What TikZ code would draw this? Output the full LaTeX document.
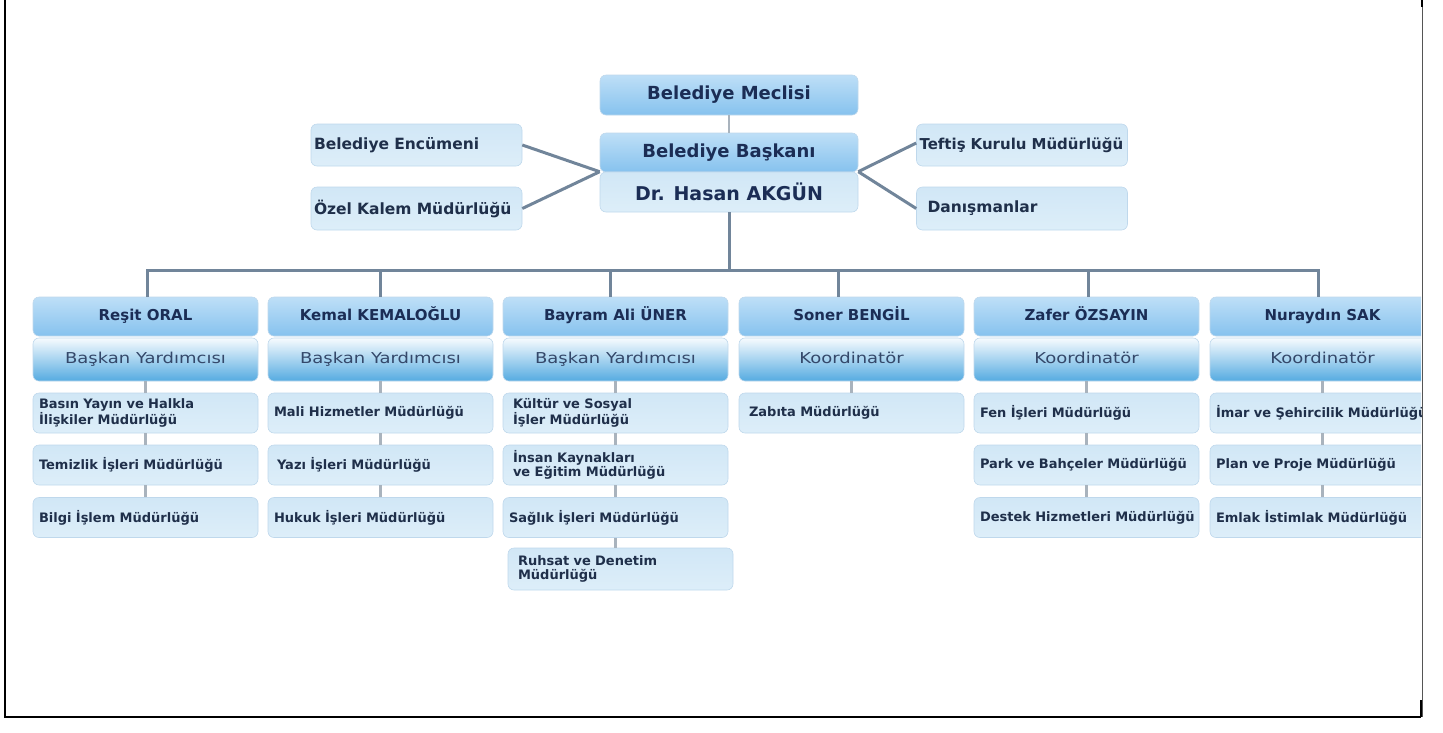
\documentclass[tikz,border=0pt]{standalone}
\usepackage{fontspec}
\setmainfont{DejaVu Sans}
\newfontfamily\widefont[FakeStretch=1.2]{DejaVu Sans}
\usetikzlibrary{calc}
\definecolor{nbTop}{HTML}{BEDFF7}
\definecolor{nbMid}{HTML}{4C9FE4}
\definecolor{nbBot}{HTML}{86C2EE}
\definecolor{rbTop}{HTML}{F7FBFE}
\definecolor{rbMid}{HTML}{C8E2F3}
\definecolor{rbBot}{HTML}{55ABE1}
\definecolor{sbTop}{HTML}{D1E7F6}
\definecolor{sbBot}{HTML}{DDEEF9}
\definecolor{boxDraw}{HTML}{BFD8EC}
\definecolor{txtName}{HTML}{1B2D55}
\definecolor{txtRole}{HTML}{34486A}
\definecolor{txtSub}{HTML}{1F2F4A}
\definecolor{connCol}{HTML}{71859A}
\definecolor{minorCol}{HTML}{A9B3BD}
\definecolor{frameGrey}{HTML}{555555}
\tikzset{
  namebox/.style={rounded corners=6pt, minimum width=225pt, minimum height=39pt, inner sep=0pt,
    text height=11pt, text depth=3pt,
    top color=nbTop, middle color=nbMid, bottom color=nbBot, draw=boxDraw, line width=0.6pt,
    font=\fontsize{15}{17}\selectfont\bfseries, text=txtName},
  rolebox/.style={rounded corners=6pt, minimum width=225pt, minimum height=43pt, inner sep=0pt,
    text height=11pt, text depth=3pt,
    top color=rbTop, middle color=rbMid, bottom color=rbBot, draw=boxDraw, line width=0.6pt,
    font=\widefont\fontsize{15}{17}\selectfont, text=txtRole},
  subbox/.style={rounded corners=6pt, text width=213pt, inner xsep=6pt, inner ysep=0pt, minimum height=40pt,
    align=left, top color=sbTop, bottom color=sbBot, draw=boxDraw, line width=0.6pt,
    font=\fontsize{13}{14}\selectfont\bfseries, text=txtSub},
  sidebox/.style={rounded corners=6pt, text width=205pt, inner xsep=3pt, inner ysep=0pt, minimum height=42pt,
    align=left, top color=sbTop, bottom color=sbBot, draw=boxDraw, line width=0.6pt,
    font=\fontsize{15.5}{17}\selectfont\bfseries, text=txtSub},
  topbox/.style={rounded corners=6pt, minimum width=258pt, inner sep=0pt,
    text height=13pt, text depth=4pt,
    top color=nbTop, middle color=nbMid, bottom color=nbBot, draw=boxDraw, line width=0.6pt,
    font=\fontsize{18}{20}\selectfont\bfseries, text=txtName},
  drbox/.style={rounded corners=6pt, minimum width=258pt, minimum height=40pt, inner sep=0pt,
    top color=sbTop, bottom color=sbBot, draw=boxDraw, line width=0.6pt,
    font=\fontsize{19}{21}\selectfont\bfseries, text=txtName},
  conn/.style={draw=connCol, line width=3pt},
  minor/.style={draw=minorCol, line width=2.5pt},
  frameline/.style={draw=black, line width=2.5pt}
}
\begin{document}
\begin{tikzpicture}[x=1pt,y=-1pt]
\useasboundingbox (0,0) rectangle (1443,732);
\begin{scope}
\clip (0,0) rectangle (1421,732);
% top part
\node[topbox, minimum height=40pt] (mec) at (729,95) {Belediye Meclisi};
\node[topbox, minimum height=39pt] (bas) at (729,152.5) {Belediye Başkanı};
\node[drbox] (dr) at (729,192) {Dr. Hasan AKGÜN};
\node[sidebox] (enc) at (416.5,145) {Belediye Encümeni};
\node[sidebox, minimum height=43pt] (ozel) at (416.5,208.5) {Özel Kalem Müdürlüğü};
\node[sidebox, font=\fontsize{15}{17}\selectfont\bfseries] (tef) at (1022,145) {\mbox{Teftiş Kurulu Müdürlüğü}};
\node[sidebox, minimum height=43pt] (dan) at (1022,208.5) {\hspace*{8pt}Danışmanlar};
\draw[minor] (mec.south) -- (bas.north);
\draw[conn] (dr.north west) -- (enc.east);
\draw[conn] (dr.north west) -- (ozel.east);
\draw[conn] (dr.north east) -- ($(tef.west)+(0,-2)$);
\draw[conn] (dr.north east) -- (dan.west);

% columns
\foreach \i/\cx/\nm/\rl in {1/145.5/Reşit ORAL/Başkan Yardımcısı,
                              2/380.5/Kemal KEMALOĞLU/Başkan Yardımcısı,
                              3/615.5/Bayram Ali ÜNER/Başkan Yardımcısı,
                              4/851.5/Soner BENGİL/Koordinatör,
                              5/1086.5/Zafer ÖZSAYIN/Koordinatör,
                              6/1322.5/Nuraydın SAK/Koordinatör}{
  \node[namebox] (n\i) at (\cx,316.5) {\nm};
  \node[rolebox] (r\i) at (\cx,359.5) {\rl};
}
% sub boxes
\node[subbox] (s11) at (145.5,413) {Basın Yayın ve Halkla\\İlişkiler Müdürlüğü};
\node[subbox] (s12) at (145.5,465) {Temizlik İşleri Müdürlüğü};
\node[subbox] (s13) at (145.5,517.5) {Bilgi İşlem Müdürlüğü};
\node[subbox] (s21) at (380.5,413) {Mali Hizmetler Müdürlüğü};
\node[subbox] (s22) at (380.5,465) {\hspace*{3pt}Yazı İşleri Müdürlüğü};
\node[subbox] (s23) at (380.5,517.5) {Hukuk İşleri Müdürlüğü};
\node[subbox] (s31) at (615.5,413) {\hspace*{4pt}Kültür ve Sosyal\\\hspace*{4pt}İşler Müdürlüğü};
\node[subbox] (s32) at (615.5,465) {\hspace*{4pt}İnsan Kaynakları\\\hspace*{4pt}ve Eğitim Müdürlüğü};
\node[subbox] (s33) at (615.5,517.5) {Sağlık İşleri Müdürlüğü};
\node[subbox, minimum height=42pt] (s34) at (620.5,569) {\hspace*{4pt}Ruhsat ve Denetim\\\hspace*{4pt}Müdürlüğü};
\node[subbox] (s41) at (851.5,413) {\hspace*{4pt}Zabıta Müdürlüğü};
\node[subbox] (s51) at (1086.5,413) {Fen İşleri Müdürlüğü};
\node[subbox] (s52) at (1086.5,465) {\mbox{Park ve Bahçeler Müdürlüğü}};
\node[subbox] (s53) at (1086.5,517.5) {\mbox{Destek Hizmetleri Müdürlüğü}};
\node[subbox] (s61) at (1322.5,413) {\mbox{İmar ve Şehircilik Müdürlüğü}};
\node[subbox] (s62) at (1322.5,465) {Plan ve Proje Müdürlüğü};
\node[subbox] (s63) at (1322.5,517.5) {Emlak İstimlak Müdürlüğü};

% minor connectors
\foreach \i in {1,2,3,4,5,6}{ \draw[minor] (r\i.south) -- (s\i1.north); }
\foreach \i in {1,2,3,5,6}{
  \draw[minor] (s\i1.south) -- (s\i2.north);
  \draw[minor] (s\i2.south) -- (s\i3.north);
}
\draw[minor] (s33.south) -- (s33.south |- s34.north);

% bus
\coordinate (d1) at (147,270);
\coordinate (d2) at (380,270);
\coordinate (d3) at (610,270);
\coordinate (d4) at (838,270);
\coordinate (d5) at (1088,270);
\coordinate (d6) at (1318,270);
\draw[conn] (dr.south) -- (dr.south |- d1);
\draw[conn, line cap=rect] (d1) -- (d6);
\foreach \i in {1,...,6}{ \draw[conn] (d\i) -- (d\i |- n\i.north); }
\end{scope}
% frame
\coordinate (fTL) at (5,0);
\coordinate (fBL) at (5,717);
\coordinate (fBR) at (1421,717);
\coordinate (fTR) at (1422,0);
\draw[frameline] (fTL) -- (fBL) -- (fBR);
\draw[draw=frameGrey, line width=1pt] (fTR) -- (fTR |- fBR);
\draw[frameline] (fTR) -- ++(0,7);
\draw[frameline] (fBR) -- ++(0,-17);
\end{tikzpicture}
\end{document}
